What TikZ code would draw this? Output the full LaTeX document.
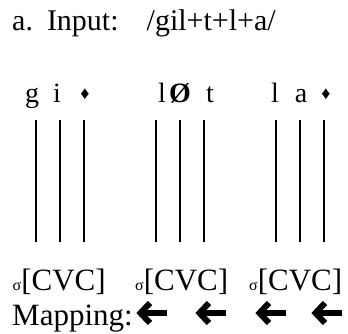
\documentclass[tikz,border=0pt]{standalone}
\usepackage{fontspec}
\setmainfont{Liberation Serif}
\begin{document}
\begin{tikzpicture}[x=1pt,y=1pt,
    seg/.style={anchor=base,inner sep=0pt,font=\fontsize{28}{28}\selectfont},
    syl/.style={anchor=base west,inner sep=0pt,font=\fontsize{31}{31}\selectfont},
    assoc/.style={line width=1.2pt},
    maparrow/.pic={
        \draw[line width=6pt] (12,10) -- (2.5,0) -- (12,-10);
        \draw[line width=6.5pt] (4,0) -- (29,0);
    }]
            \useasboundingbox (0,0) rectangle (348,-333);
            \node [anchor=base west,inner sep=0pt,font=\fontsize{30}{30}\selectfont] (title) at(12,-30) {a.\hspace*{14pt}Input:\hspace*{28pt}/gil+t+l+a/};
            \node [seg] (g) at(32,-102) {g};
            \node [seg] (i) at(57,-102) {i};
            \node [seg,anchor=center,font=\fontsize{18}{18}\selectfont] (dia1) at(85,-94) {♦};
            \node [seg] (l1) at(162,-102) {l};
            \node [seg] (zero) at(180,-102) {\textbf{Ø}};
            \node [seg] (t) at(210,-102) {t};
            \node [seg] (l2) at(275,-102) {l};
            \node [seg] (a) at(301,-102) {a};
            \node [seg,anchor=center,font=\fontsize{18}{18}\selectfont] (dia2) at(326,-94) {♦};
            \foreach \x [count=\i] in {36,60,84,156,180,204,276,300,324} {
                \coordinate (top\i) at(\x,-120);
                \coordinate (bot\i) at(\x,-242);
                \draw [assoc] (top\i)--(bot\i);
            }
            \node [syl] (syl1) at(12.5,-290) {{\fontsize{16}{16}\selectfont σ}[CVC]};
            \node [syl] (syl2) at(135,-290) {{\fontsize{16}{16}\selectfont σ}[CVC]};
            \node [syl] (syl3) at(249,-290) {{\fontsize{16}{16}\selectfont σ}[CVC]};
            \node [syl] (map) at(12,-325) {Mapping:};
            \pic (arr1) at(138,-313) {maparrow};
            \pic (arr2) at(197,-313) {maparrow};
            \pic (arr3) at(257,-313) {maparrow};
            \pic (arr4) at(313,-313) {maparrow};
        \end{tikzpicture}
\end{document}
